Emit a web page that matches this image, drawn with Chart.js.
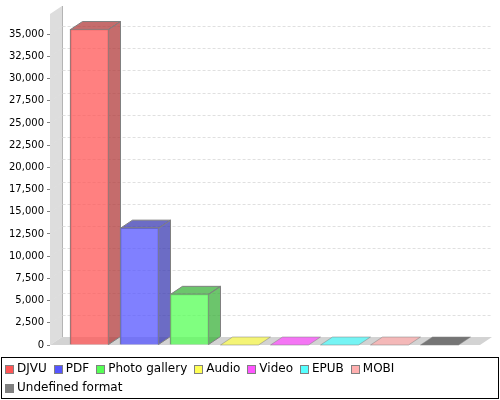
<!DOCTYPE html>
<html>
<head>
<meta charset="utf-8">
<script src="https://cdn.jsdelivr.net/npm/chart.js@4"></script>
<style>
body { margin: 0; background: #fff; }
</style>
</head>
<body>
<canvas id="myChart" width="500" height="400"></canvas>
<script>
let categories = ['DJVU', 'PDF', 'Photo gallery', 'Audio', 'Video', 'EPUB', 'MOBI', 'Undefined format'];
let values = [35570, 13210, 5760, 0, 0, 0, 0, 0];
let yTicks = [0, 2500, 5000, 7500, 10000, 12500, 15000, 17500, 20000, 22500, 25000, 27500, 30000, 32500, 35000];
let colors = ['255,85,85', '85,85,255', '85,255,85', '255,255,85', '255,85,255', '85,255,255', '255,175,175', '128,128,128'];
let topColors = ['178,59,59', '59,59,178', '59,178,59', '255,255,85', '255,85,255', '85,255,255', '255,175,175', '85,85,85'];

let depthX = 12;
let depthY = 8;

function path(ctx, pts, fill, stroke) {
  ctx.beginPath();
  pts.forEach(function(p, i) {
    if (i == 0) ctx.moveTo(p[0], p[1]); else ctx.lineTo(p[0], p[1]);
  });
  ctx.closePath();
  if (fill) { ctx.fillStyle = fill; ctx.fill(); }
  if (stroke) { ctx.strokeStyle = stroke; ctx.lineWidth = 1; ctx.stroke(); }
}

// walls, dashed gridlines, then side and top faces, all behind the bar fronts
let wallsPlugin = {
  id: 'walls',
  beforeDatasetsDraw: function(chart) {
    let ctx = chart.ctx, a = chart.chartArea, y = chart.scales.y;
    ctx.save();
    path(ctx, [[a.left, a.top], [a.left + depthX, a.top - depthY], [a.left + depthX, a.bottom - depthY], [a.left, a.bottom]], 'rgb(221,221,221)');
    path(ctx, [[a.left, a.bottom], [a.left + depthX, a.bottom - depthY], [a.right + depthX, a.bottom - depthY], [a.right, a.bottom]], 'rgb(211,211,211)');
    ctx.strokeStyle = 'rgb(180,180,180)';
    ctx.lineWidth = 1;
    ctx.beginPath();
    ctx.moveTo(a.left + depthX + 0.5, a.top - depthY);
    ctx.lineTo(a.left + depthX + 0.5, a.bottom - depthY);
    ctx.stroke();
    ctx.strokeStyle = 'rgb(224,224,224)';
    ctx.setLineDash([3, 2]);
    y.ticks.forEach(function(t) {
      if (t.value == 0) return;
      let py = Math.round(y.getPixelForValue(t.value)) + 0.5;
      ctx.beginPath();
      ctx.moveTo(a.left, py);
      ctx.lineTo(a.left + depthX, py - depthY);
      ctx.lineTo(a.right + depthX, py - depthY);
      ctx.stroke();
    });
    ctx.setLineDash([]);
    chart.getDatasetMeta(0).data.forEach(function(bar, i) {
      let p = bar.getProps(['x', 'y', 'base', 'width'], true);
      let l = p.x - p.width / 2 + 0.5, r = p.x + p.width / 2 - 0.5, t = p.y + 0.5, b = p.base;
      let c = 'rgba(' + topColors[i] + ',0.75)';
      if (values[i] > 0) {
        path(ctx, [[r, t], [r + depthX, t - depthY], [r + depthX, b - depthY], [r, b]], c, 'rgb(128,128,128)');
        path(ctx, [[l, t], [l + depthX, t - depthY], [r + depthX, t - depthY], [r, t]], c, 'rgb(128,128,128)');
      } else {
        path(ctx, [[l, b], [l + depthX, b - depthY], [r + depthX, b - depthY], [r, b]], c, 'rgba(128,128,128,0.5)');
      }
    });
    ctx.restore();
  },
  afterDraw: function(chart) {
    // legend frame and swatches
    let ctx = chart.ctx, legend = chart.legend;
    ctx.save();
    ctx.strokeStyle = '#000';
    ctx.lineWidth = 1;
    ctx.strokeRect(1.5, 357.5, 497, 41);
    legend.legendHitBoxes.forEach(function(h, i) {
      let sy = Math.round(h.top + h.height / 2 - 4) + 0.5;
      ctx.fillStyle = 'rgb(' + colors[i] + ')';
      ctx.fillRect(Math.round(h.left) + 0.5, sy, 8, 8);
      ctx.strokeStyle = 'rgb(128,128,128)';
      ctx.strokeRect(Math.round(h.left) + 0.5, sy, 8, 8);
    });
    ctx.restore();
  }
};

var myChart = new Chart(document.getElementById('myChart'), {
  type: 'bar',
  data: {
    labels: categories,
    datasets: [{
      data: values.map(function(v, i) { return { x: i, y: v }; }),
      backgroundColor: colors.map(function(c) { return 'rgba(' + c + ',0.75)'; }),
      borderColor: 'rgb(128,128,128)',
      borderWidth: 1,
      barThickness: 39
    }]
  },
  options: {
    responsive: false,
    animation: false,
    layout: { padding: { top: 14, bottom: -4, left: -2, right: 20 } },
    scales: {
      x: {
        type: 'linear',
        offset: false,
        min: -0.79,
        max: 7.81,
        afterFit: function(scale) { scale.height = 11; },
        grid: { display: false },
        border: { display: false },
        ticks: { display: false }
      },
      y: {
        min: 0,
        max: 37260,
        afterFit: function(scale) { scale.width = 52; },
        afterBuildTicks: function(scale) {
          scale.ticks = yTicks.map(function(v) { return { value: v }; });
        },
        grid: { drawOnChartArea: false, drawTicks: true, tickLength: 3, tickColor: 'rgb(128,128,128)' },
        border: { display: false },
        ticks: {
          autoSkip: false,
          color: '#000',
          padding: 3,
          font: { family: 'DejaVu Sans', size: 10 },
          callback: function(v) { return v.toLocaleString('en-US'); }
        }
      }
    },
    plugins: {
      tooltip: { enabled: false },
      legend: {
        position: 'bottom',
        align: 'start',
        onClick: null,
        labels: {
          boxWidth: 6,
          boxHeight: 6,
          padding: 7,
          color: '#000',
          font: { family: 'DejaVu Sans', size: 12 },
          generateLabels: function() {
            return categories.map(function(c, i) {
              return { text: c, fillStyle: 'transparent', strokeStyle: 'transparent', lineWidth: 0, index: i };
            });
          }
        }
      }
    }
  },
  plugins: [wallsPlugin]
});
</script>
</body>
</html>
